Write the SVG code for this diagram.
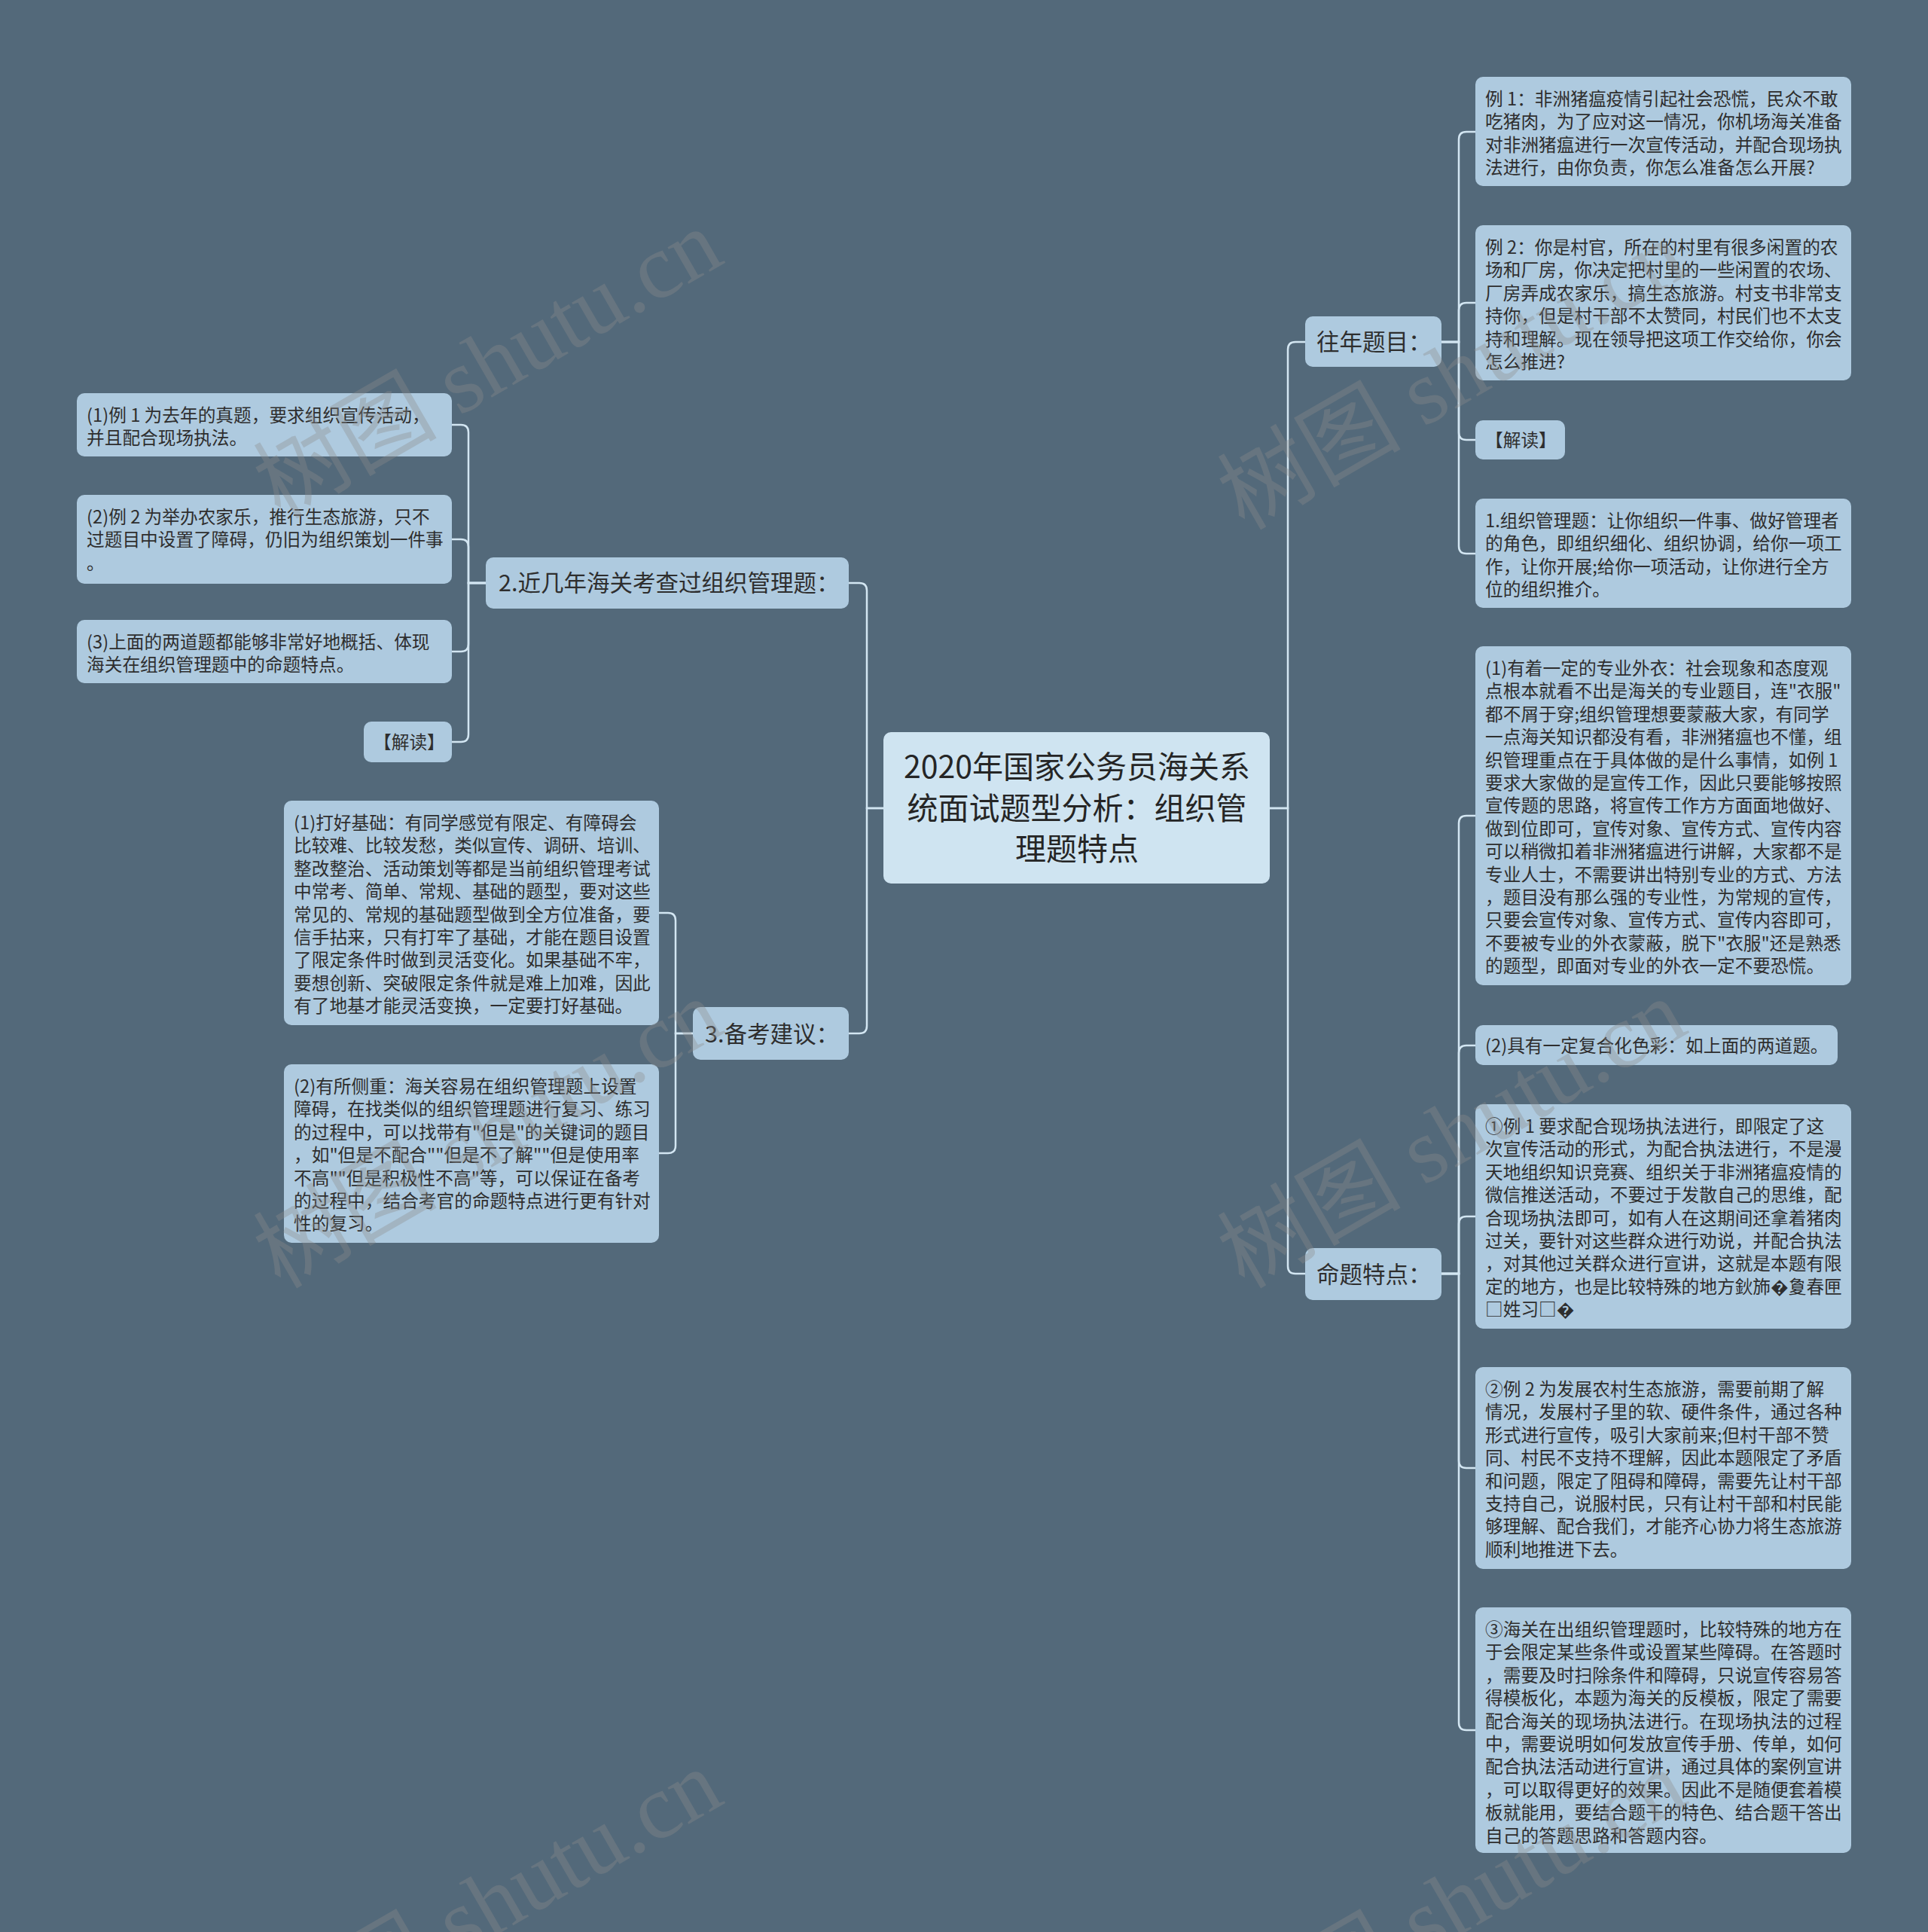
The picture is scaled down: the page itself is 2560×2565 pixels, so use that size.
<svg xmlns="http://www.w3.org/2000/svg" width="2560" height="2565" viewBox="0 0 2560 2565">
<style>
.bg{fill:#53697a}
.leaf{fill:#aecadf}
.root{fill:#cfe4f1}
.t{font-family:"Noto Sans CJK SC","Noto Sans",sans-serif;fill:#2e2e2e}
.s{font-size:23.7px}
.m{font-size:30.5px}
.l{font-size:41px;fill:#252525}
.c{fill:none;stroke:#d3e6f2;stroke-width:2.5}
.wm{font-family:"Liberation Serif","Noto Sans CJK SC",serif;font-size:122px;fill:#8c8c8c;opacity:0.35}
</style>
<rect class="bg" x="0" y="0" width="2560" height="2565"/>

<g id="connectors">
<path class="c" d="M1686,1073 H1710 V464 Q1710,454 1720,454 H1733"/>
<path class="c" d="M1686,1073 H1710 V1681 Q1710,1691 1720,1691 H1733"/>
<path class="c" d="M1173,1073 H1151 V784 Q1151,774 1141,774 H1127"/>
<path class="c" d="M1173,1073 H1151 V1362 Q1151,1372 1141,1372 H1127"/>
<path class="c" d="M1914,454 H1937 V185 Q1937,175 1947,175 H1959"/>
<path class="c" d="M1914,454 H1937 V412 Q1937,402 1947,402 H1959"/>
<path class="c" d="M1914,454 H1937 V574 Q1937,584 1947,584 H1959"/>
<path class="c" d="M1914,454 H1937 V725 Q1937,735 1947,735 H1959"/>
<path class="c" d="M1914,1691 H1937 V1093 Q1937,1083 1947,1083 H1959"/>
<path class="c" d="M1914,1691 H1937 V1398 Q1937,1388 1947,1388 H1959"/>
<path class="c" d="M1914,1691 H1937 V1625 Q1937,1615 1947,1615 H1959"/>
<path class="c" d="M1914,1691 H1937 V1939 Q1937,1949 1947,1949 H1959"/>
<path class="c" d="M1914,1691 H1937 V2287 Q1937,2297 1947,2297 H1959"/>
<path class="c" d="M645,774 H622 V574 Q622,564 612,564 H600"/>
<path class="c" d="M645,774 H622 V726 Q622,716 612,716 H600"/>
<path class="c" d="M645,774 H622 V855 Q622,865 612,865 H600"/>
<path class="c" d="M645,774 H622 V975 Q622,985 612,985 H600"/>
<path class="c" d="M920,1372 H897 V1222 Q897,1212 887,1212 H875"/>
<path class="c" d="M920,1372 H897 V1521 Q897,1531 887,1531 H875"/>
</g>

<g id="root">
<rect class="root" x="1173" y="972" width="513" height="201" rx="10"/>
<text class="t l" text-anchor="middle"><tspan x="1430" y="1033">2020年国家公务员海关系</tspan><tspan x="1430" y="1088">统面试题型分析：组织管</tspan><tspan x="1430" y="1142">理题特点</tspan></text>
</g>

<g id="n-wangnian">
<rect class="leaf" x="1733" y="420" width="181" height="67" rx="10"/>
<text class="t m" x="1748" y="465">往年题目：</text>
</g>
<g id="n-mingti">
<rect class="leaf" x="1733" y="1657" width="181" height="69" rx="10"/>
<text class="t m" x="1748" y="1703">命题特点：</text>
</g>
<g id="n-jinjinian">
<rect class="leaf" x="645" y="740" width="482" height="68" rx="10"/>
<text class="t m" x="662" y="785">2.近几年海关考查过组织管理题：</text>
</g>
<g id="n-beikao">
<rect class="leaf" x="920" y="1337" width="207" height="70" rx="10"/>
<text class="t m" x="936" y="1384">3.备考建议：</text>
</g>

<g id="r-li1">
<rect class="leaf" x="1959" y="102" width="499" height="145" rx="10"/>
<text class="t s"><tspan x="1972" y="140">例 1：非洲猪瘟疫情引起社会恐慌，民众不敢</tspan><tspan x="1972" dy="30.4">吃猪肉，为了应对这一情况，你机场海关准备</tspan><tspan x="1972" dy="30.4">对非洲猪瘟进行一次宣传活动，并配合现场执</tspan><tspan x="1972" dy="30.4">法进行，由你负责，你怎么准备怎么开展?</tspan></text>
</g>
<g id="r-li2">
<rect class="leaf" x="1959" y="299" width="499" height="206" rx="10"/>
<text class="t s"><tspan x="1972" y="337">例 2：你是村官，所在的村里有很多闲置的农</tspan><tspan x="1972" dy="30.4">场和厂房，你决定把村里的一些闲置的农场、</tspan><tspan x="1972" dy="30.4">厂房弄成农家乐，搞生态旅游。村支书非常支</tspan><tspan x="1972" dy="30.4">持你，但是村干部不太赞同，村民们也不太支</tspan><tspan x="1972" dy="30.4">持和理解。现在领导把这项工作交给你，你会</tspan><tspan x="1972" dy="30.4">怎么推进?</tspan></text>
</g>
<g id="r-jiedu">
<rect class="leaf" x="1959" y="558" width="119" height="52" rx="10"/>
<text class="t s" x="1972" y="593">【解读】</text>
</g>
<g id="r-zuzhi">
<rect class="leaf" x="1959" y="662" width="499" height="145" rx="10"/>
<text class="t s"><tspan x="1972" y="700">1.组织管理题：让你组织一件事、做好管理者</tspan><tspan x="1972" dy="30.4">的角色，即组织细化、组织协调，给你一项工</tspan><tspan x="1972" dy="30.4">作，让你开展;给你一项活动，让你进行全方</tspan><tspan x="1972" dy="30.4">位的组织推介。</tspan></text>
</g>
<g id="r-p1">
<rect class="leaf" x="1959" y="858" width="499" height="450" rx="10"/>
<text class="t s"><tspan x="1972" y="896">(1)有着一定的专业外衣：社会现象和态度观</tspan><tspan x="1972" dy="30.4">点根本就看不出是海关的专业题目，连"衣服"</tspan><tspan x="1972" dy="30.4">都不屑于穿;组织管理想要蒙蔽大家，有同学</tspan><tspan x="1972" dy="30.4">一点海关知识都没有看，非洲猪瘟也不懂，组</tspan><tspan x="1972" dy="30.4">织管理重点在于具体做的是什么事情，如例 1</tspan><tspan x="1972" dy="30.4">要求大家做的是宣传工作，因此只要能够按照</tspan><tspan x="1972" dy="30.4">宣传题的思路，将宣传工作方方面面地做好、</tspan><tspan x="1972" dy="30.4">做到位即可，宣传对象、宣传方式、宣传内容</tspan><tspan x="1972" dy="30.4">可以稍微扣着非洲猪瘟进行讲解，大家都不是</tspan><tspan x="1972" dy="30.4">专业人士，不需要讲出特别专业的方式、方法</tspan><tspan x="1972" dy="30.4">，题目没有那么强的专业性，为常规的宣传，</tspan><tspan x="1972" dy="30.4">只要会宣传对象、宣传方式、宣传内容即可，</tspan><tspan x="1972" dy="30.4">不要被专业的外衣蒙蔽，脱下"衣服"还是熟悉</tspan><tspan x="1972" dy="30.4">的题型，即面对专业的外衣一定不要恐慌。</tspan></text>
</g>
<g id="r-p2">
<rect class="leaf" x="1959" y="1361" width="481" height="53" rx="10"/>
<text class="t s" x="1972" y="1397">(2)具有一定复合化色彩：如上面的两道题。</text>
</g>
<g id="r-c1">
<rect class="leaf" x="1959" y="1466" width="499" height="298" rx="10"/>
<text class="t s"><tspan x="1972" y="1504">①例 1 要求配合现场执法进行，即限定了这</tspan><tspan x="1972" dy="30.4">次宣传活动的形式，为配合执法进行，不是漫</tspan><tspan x="1972" dy="30.4">天地组织知识竞赛、组织关于非洲猪瘟疫情的</tspan><tspan x="1972" dy="30.4">微信推送活动，不要过于发散自己的思维，配</tspan><tspan x="1972" dy="30.4">合现场执法即可，如有人在这期间还拿着猪肉</tspan><tspan x="1972" dy="30.4">过关，要针对这些群众进行劝说，并配合执法</tspan><tspan x="1972" dy="30.4">，对其他过关群众进行宣讲，这就是本题有限</tspan><tspan x="1972" dy="30.4">定的地方，也是比较特殊的地方鈥斾�夐春匣</tspan><tspan x="1972" dy="30.4">□姓习□�</tspan></text>
</g>
<g id="r-c2">
<rect class="leaf" x="1959" y="1815" width="499" height="268" rx="10"/>
<text class="t s"><tspan x="1972" y="1853">②例 2 为发展农村生态旅游，需要前期了解</tspan><tspan x="1972" dy="30.4">情况，发展村子里的软、硬件条件，通过各种</tspan><tspan x="1972" dy="30.4">形式进行宣传，吸引大家前来;但村干部不赞</tspan><tspan x="1972" dy="30.4">同、村民不支持不理解，因此本题限定了矛盾</tspan><tspan x="1972" dy="30.4">和问题，限定了阻碍和障碍，需要先让村干部</tspan><tspan x="1972" dy="30.4">支持自己，说服村民，只有让村干部和村民能</tspan><tspan x="1972" dy="30.4">够理解、配合我们，才能齐心协力将生态旅游</tspan><tspan x="1972" dy="30.4">顺利地推进下去。</tspan></text>
</g>
<g id="r-c3">
<rect class="leaf" x="1959" y="2134" width="499" height="326" rx="10"/>
<text class="t s"><tspan x="1972" y="2172">③海关在出组织管理题时，比较特殊的地方在</tspan><tspan x="1972" dy="30.4">于会限定某些条件或设置某些障碍。在答题时</tspan><tspan x="1972" dy="30.4">，需要及时扫除条件和障碍，只说宣传容易答</tspan><tspan x="1972" dy="30.4">得模板化，本题为海关的反模板，限定了需要</tspan><tspan x="1972" dy="30.4">配合海关的现场执法进行。在现场执法的过程</tspan><tspan x="1972" dy="30.4">中，需要说明如何发放宣传手册、传单，如何</tspan><tspan x="1972" dy="30.4">配合执法活动进行宣讲，通过具体的案例宣讲</tspan><tspan x="1972" dy="30.4">，可以取得更好的效果。因此不是随便套着模</tspan><tspan x="1972" dy="30.4">板就能用，要结合题干的特色、结合题干答出</tspan><tspan x="1972" dy="30.4">自己的答题思路和答题内容。</tspan></text>
</g>

<g id="l-p1">
<rect class="leaf" x="102" y="522" width="498" height="84" rx="10"/>
<text class="t s"><tspan x="115" y="560">(1)例 1 为去年的真题，要求组织宣传活动，</tspan><tspan x="115" dy="30.4">并且配合现场执法。</tspan></text>
</g>
<g id="l-p2">
<rect class="leaf" x="102" y="657" width="498" height="118" rx="10"/>
<text class="t s"><tspan x="115" y="695">(2)例 2 为举办农家乐，推行生态旅游，只不</tspan><tspan x="115" dy="30.4">过题目中设置了障碍，仍旧为组织策划一件事</tspan><tspan x="115" dy="30.4">。</tspan></text>
</g>
<g id="l-p3">
<rect class="leaf" x="102" y="823" width="498" height="84" rx="10"/>
<text class="t s"><tspan x="115" y="861">(3)上面的两道题都能够非常好地概括、体现</tspan><tspan x="115" dy="30.4">海关在组织管理题中的命题特点。</tspan></text>
</g>
<g id="l-jiedu">
<rect class="leaf" x="483" y="958" width="117" height="54" rx="10"/>
<text class="t s" x="496" y="994">【解读】</text>
</g>
<g id="b-p1">
<rect class="leaf" x="377" y="1063" width="498" height="298" rx="10"/>
<text class="t s"><tspan x="390" y="1101">(1)打好基础：有同学感觉有限定、有障碍会</tspan><tspan x="390" dy="30.4">比较难、比较发愁，类似宣传、调研、培训、</tspan><tspan x="390" dy="30.4">整改整治、活动策划等都是当前组织管理考试</tspan><tspan x="390" dy="30.4">中常考、简单、常规、基础的题型，要对这些</tspan><tspan x="390" dy="30.4">常见的、常规的基础题型做到全方位准备，要</tspan><tspan x="390" dy="30.4">信手拈来，只有打牢了基础，才能在题目设置</tspan><tspan x="390" dy="30.4">了限定条件时做到灵活变化。如果基础不牢，</tspan><tspan x="390" dy="30.4">要想创新、突破限定条件就是难上加难，因此</tspan><tspan x="390" dy="30.4">有了地基才能灵活变换，一定要打好基础。</tspan></text>
</g>
<g id="b-p2">
<rect class="leaf" x="377" y="1413" width="498" height="237" rx="10"/>
<text class="t s"><tspan x="390" y="1451">(2)有所侧重：海关容易在组织管理题上设置</tspan><tspan x="390" dy="30.4">障碍，在找类似的组织管理题进行复习、练习</tspan><tspan x="390" dy="30.4">的过程中，可以找带有"但是"的关键词的题目</tspan><tspan x="390" dy="30.4">，如"但是不配合""但是不了解""但是使用率</tspan><tspan x="390" dy="30.4">不高""但是积极性不高"等，可以保证在备考</tspan><tspan x="390" dy="30.4">的过程中，结合考官的命题特点进行更有针对</tspan><tspan x="390" dy="30.4">性的复习。</tspan></text>
</g>

<g id="watermarks">
<text class="wm" x="372" y="690" transform="rotate(-30 372 690)">树图 shutu.cn</text>
<text class="wm" x="1652" y="705" transform="rotate(-30 1652 705)">树图 shutu.cn</text>
<text class="wm" x="372" y="1712" transform="rotate(-30 372 1712)">树图 shutu.cn</text>
<text class="wm" x="1652" y="1712" transform="rotate(-30 1652 1712)">树图 shutu.cn</text>
<text class="wm" x="372" y="2735" transform="rotate(-30 372 2735)">树图 shutu.cn</text>
<text class="wm" x="1652" y="2735" transform="rotate(-30 1652 2735)">树图 shutu.cn</text>
</g>
</svg>
